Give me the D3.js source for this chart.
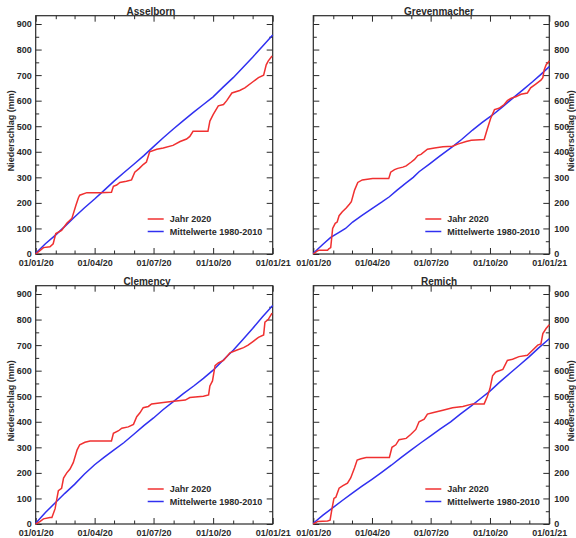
<!DOCTYPE html>
<html><head><meta charset="utf-8">
<script src="https://cdn.jsdelivr.net/npm/d3@7"></script>
<style>
html,body{margin:0;padding:0;background:#fff;}
svg{display:block;font-family:"Liberation Sans",Arial,sans-serif;}
</style></head>
<body><svg id="chart" width="576" height="538"></svg>
<script>
// ---- data (day of year 2020 -> cumulative precipitation mm) ----
const stations = ["Asselborn", "Grevenmacher", "Clemency", "Remich"];
const legendLabels = ["Jahr 2020", "Mittelwerte 1980-2010"];
const yTicks = [0, 100, 200, 300, 400, 500, 600, 700, 800, 900];
const xTickLabels = ["01/01/20", "01/04/20", "01/07/20", "01/10/20", "01/01/21"];

const asselbornDays2020 = [0, 6, 12, 22, 27, 31, 40, 48, 56, 62, 66, 68, 79, 100, 117, 120, 125, 130, 140, 148, 153, 160, 166, 171, 176, 187, 197, 212, 223, 233, 238, 243, 266, 269, 274, 282, 290, 295, 303, 315, 323, 336, 344, 352, 356, 359, 365];
const asselbornRain2020 = [0, 12, 25, 28, 40, 80, 92, 120, 140, 190, 220, 230, 240, 240, 242, 265, 270, 280, 285, 290, 320, 335, 350, 360, 400, 410, 415, 425, 440, 450, 460, 480, 480, 520, 545, 580, 585, 600, 630, 640, 650, 675, 690, 700, 740, 755, 775];
const asselbornMeanDays = [0, 15, 31, 45, 60, 75, 91, 106, 121, 136, 152, 167, 182, 197, 213, 228, 244, 259, 274, 289, 305, 320, 335, 350, 366];
const asselbornMean = [3, 40, 75, 108, 145, 180, 215, 250, 285, 318, 352, 385, 420, 455, 490, 522, 555, 585, 615, 652, 690, 730, 770, 812, 857];

const grevenDays2020 = [0, 7, 9, 22, 24, 27, 30, 34, 37, 40, 45, 51, 56, 59, 64, 69, 76, 92, 117, 120, 126, 131, 139, 144, 152, 157, 162, 167, 177, 188, 201, 216, 224, 237, 245, 265, 270, 275, 281, 288, 296, 301, 307, 314, 322, 332, 337, 345, 353, 356, 358, 361, 366];
const grevenRain2020 = [0, 13, 15, 15, 20, 25, 100, 120, 125, 150, 165, 180, 195, 205, 250, 280, 290, 295, 295, 320, 330, 335, 340, 345, 360, 370, 385, 390, 410, 415, 420, 422, 430, 440, 445, 448, 490, 530, 565, 570, 585, 600, 610, 615, 625, 630, 650, 665, 680, 690, 720, 740, 755];
const grevenMeanDays = [0, 15, 27, 40, 50, 61, 75, 91, 106, 118, 130, 144, 155, 164, 180, 195, 216, 230, 247, 262, 278, 293, 309, 325, 340, 353, 366];
const grevenMean = [3, 38, 65, 85, 100, 125, 150, 178, 203, 224, 250, 278, 300, 322, 352, 381, 420, 448, 485, 515, 544, 575, 609, 642, 674, 703, 733];

const clemencyDays2020 = [0, 7, 12, 22, 25, 30, 32, 35, 40, 43, 48, 53, 58, 64, 68, 76, 84, 117, 120, 128, 133, 143, 151, 156, 161, 166, 174, 179, 197, 213, 231, 238, 259, 267, 269, 273, 277, 282, 290, 300, 310, 321, 328, 336, 344, 352, 354, 359, 365];
const clemencyRain2020 = [0, 10, 20, 25, 25, 60, 90, 130, 140, 180, 200, 215, 240, 290, 310, 320, 325, 325, 355, 365, 375, 380, 390, 420, 435, 455, 460, 470, 475, 480, 485, 495, 500, 505, 540, 560, 620, 630, 640, 670, 680, 690, 700, 715, 730, 740, 790, 800, 825];
const clemencyMeanDays = [0, 15, 31, 45, 60, 75, 91, 106, 121, 136, 152, 167, 182, 197, 213, 228, 244, 259, 274, 289, 305, 320, 335, 350, 366];
const clemencyMean = [3, 45, 85, 120, 155, 195, 232, 262, 290, 318, 352, 385, 415, 448, 480, 510, 540, 570, 602, 640, 680, 722, 765, 810, 855];

const remichDays2020 = [0, 7, 22, 26, 29, 32, 35, 40, 46, 53, 58, 64, 68, 74, 82, 118, 122, 128, 133, 144, 151, 159, 164, 172, 177, 185, 201, 216, 232, 247, 265, 270, 274, 278, 283, 294, 301, 309, 319, 332, 340, 348, 353, 356, 361, 366];
const remichRain2020 = [0, 10, 12, 15, 60, 100, 105, 140, 150, 160, 180, 220, 250, 255, 260, 260, 300, 310, 330, 335, 350, 370, 400, 410, 430, 435, 445, 455, 460, 470, 470, 500, 530, 580, 595, 605, 640, 645, 655, 660, 680, 700, 705, 745, 765, 780];
const remichMeanDays = [0, 15, 31, 45, 60, 75, 91, 106, 121, 136, 152, 167, 182, 197, 213, 228, 244, 259, 274, 289, 305, 320, 335, 350, 366];
const remichMean = [3, 35, 65, 92, 120, 147, 175, 202, 230, 260, 290, 318, 345, 372, 400, 430, 460, 490, 520, 555, 590, 622, 655, 690, 725];

// ---- drawing ----
const svg = d3.select("#chart");
const start = new Date(2020, 0, 1), end = new Date(2021, 0, 1);
const toDate = d => d3.timeDay.offset(start, d);
const parse = d3.timeParse("%d/%m/%y");
const fmt = d3.timeFormat("%d/%m/%y");
const RED = "#f03030", BLUE = "#3030f0", INK = "#2a2a2a";

const panelDefs = [
  {name: stations[0], d1: asselbornDays2020, v1: asselbornRain2020, d2: asselbornMeanDays, v2: asselbornMean, left: 35.7, right: 272.7, top: 15.7, bottom: 254, side: "left", titleX: 151},
  {name: stations[1], d1: grevenDays2020, v1: grevenRain2020, d2: grevenMeanDays, v2: grevenMean, left: 313.3, right: 549.3, top: 15.7, bottom: 254, side: "right", titleX: 439},
  {name: stations[2], d1: clemencyDays2020, v1: clemencyRain2020, d2: clemencyMeanDays, v2: clemencyMean, left: 35.7, right: 272.7, top: 285.7, bottom: 524, side: "left", titleX: 147},
  {name: stations[3], d1: remichDays2020, v1: remichRain2020, d2: remichMeanDays, v2: remichMean, left: 313.3, right: 549.3, top: 285.7, bottom: 524, side: "right", titleX: 439}
];

const majorDates = xTickLabels.map(parse);
const minorDates = d3.timeMonth.range(start, end).filter(d => d.getMonth() % 3 !== 0);
const minorY = d3.range(50, 950, 100);

panelDefs.forEach(p => {
  const x = d3.scaleTime().domain([start, end]).range([p.left, p.right]);
  const yTopVal = 900 + (900 / 230) * 8.3;
  const y = d3.scaleLinear().domain([0, yTopVal]).range([p.bottom, p.top]);
  const g = svg.append("g");

  const styleAxis = sel => {
    sel.select(".domain").remove();
    sel.selectAll(".tick line").attr("stroke", INK).attr("stroke-width", 1);
    sel.selectAll("text").attr("font-size", "9px").attr("font-weight", "bold").attr("fill", INK);
  };

  g.append("g").attr("transform", `translate(0,${p.bottom})`)
    .call(d3.axisBottom(x).tickValues(majorDates).tickFormat(fmt).tickSizeInner(-6).tickSizeOuter(0).tickPadding(6))
    .call(styleAxis);
  g.append("g").attr("transform", `translate(0,${p.bottom})`)
    .call(d3.axisBottom(x).tickValues(minorDates).tickFormat("").tickSizeInner(-3.5).tickSizeOuter(0))
    .call(styleAxis);
  g.append("g").attr("transform", `translate(0,${p.top})`)
    .call(d3.axisTop(x).tickValues(majorDates).tickFormat("").tickSizeInner(-6).tickSizeOuter(0))
    .call(styleAxis);
  g.append("g").attr("transform", `translate(0,${p.top})`)
    .call(d3.axisTop(x).tickValues(minorDates).tickFormat("").tickSizeInner(-3.5).tickSizeOuter(0))
    .call(styleAxis);

  g.append("g").attr("transform", `translate(${p.left},0)`)
    .call(d3.axisLeft(y).tickValues(yTicks).tickFormat(p.side === "left" ? d3.format("d") : "").tickSizeInner(-6).tickSizeOuter(0).tickPadding(4))
    .call(styleAxis);
  g.append("g").attr("transform", `translate(${p.left},0)`)
    .call(d3.axisLeft(y).tickValues(minorY).tickFormat("").tickSizeInner(-3.5).tickSizeOuter(0))
    .call(styleAxis);
  g.append("g").attr("transform", `translate(${p.right},0)`)
    .call(d3.axisRight(y).tickValues(yTicks).tickFormat(p.side === "right" ? d3.format("d") : "").tickSizeInner(-6).tickSizeOuter(0).tickPadding(5))
    .call(styleAxis);
  g.append("g").attr("transform", `translate(${p.right},0)`)
    .call(d3.axisRight(y).tickValues(minorY).tickFormat("").tickSizeInner(-3.5).tickSizeOuter(0))
    .call(styleAxis);

  g.append("rect").attr("x", p.left).attr("y", p.top)
    .attr("width", p.right - p.left).attr("height", p.bottom - p.top)
    .attr("fill", "none").attr("stroke", INK).attr("stroke-width", 1.2);

  const line = d3.line().x(d => x(toDate(d[0]))).y(d => y(d[1]));
  const mean = p.d2.map((d, i) => [d, p.v2[i]]);
  const yr = p.d1.map((d, i) => [d, p.v1[i]]);
  g.append("path").datum(mean).attr("d", line).attr("fill", "none").attr("stroke", BLUE).attr("stroke-width", 1.5);
  g.append("path").datum(yr).attr("d", line).attr("fill", "none").attr("stroke", RED).attr("stroke-width", 1.5);

  g.append("text").attr("x", p.titleX).attr("y", p.top - 1)
    .attr("text-anchor", "middle").attr("font-size", "10px").attr("font-weight", "bold").attr("fill", INK)
    .text(p.name);

  const ylx = p.side === "left" ? 11 : 571;
  const yly = (p.top + p.bottom) / 2 - 4;
  g.append("text").attr("transform", `translate(${ylx},${yly}) rotate(-90)`)
    .attr("text-anchor", "middle").attr("dy", "0.35em")
    .attr("font-size", "9px").attr("font-weight", "bold").attr("fill", INK)
    .text("Niederschlag (mm)");

  const lx = p.left + 112;
  const items = [[legendLabels[0], RED, p.bottom - 35], [legendLabels[1], BLUE, p.bottom - 22.5]];
  items.forEach(([lab, col, ly]) => {
    g.append("line").attr("x1", lx).attr("x2", lx + 16).attr("y1", ly).attr("y2", ly)
      .attr("stroke", col).attr("stroke-width", 1.5);
    g.append("text").attr("x", lx + 22).attr("y", ly).attr("dy", "0.35em")
      .attr("font-size", "9px").attr("font-weight", "bold").attr("fill", INK).text(lab);
  });
});
</script>
</body></html>
